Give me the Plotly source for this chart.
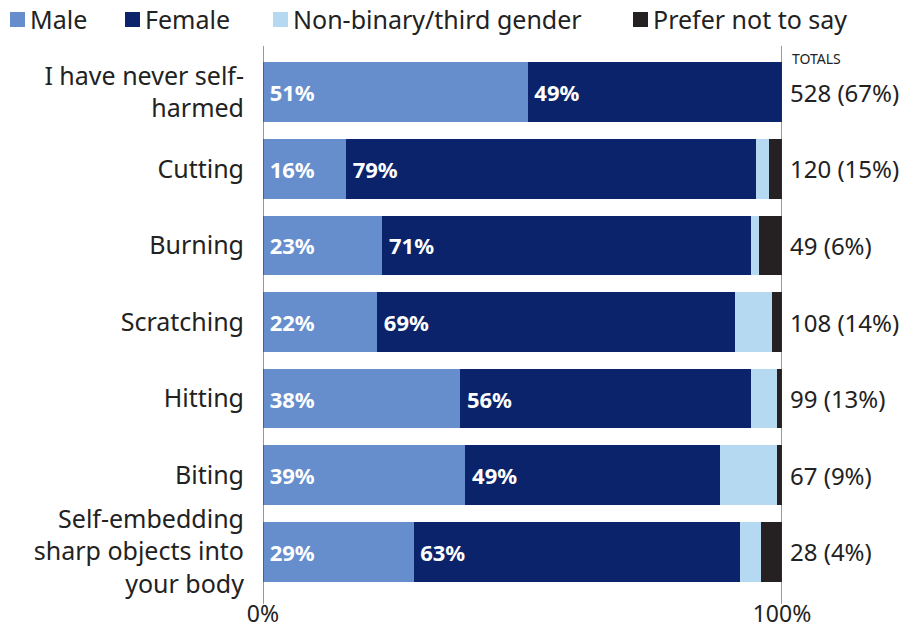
import plotly.graph_objects as go

categories = [
    "I have never self-<br>harmed",
    "Cutting",
    "Burning",
    "Scratching",
    "Hitting",
    "Biting",
    "Self-embedding<br>sharp objects into<br>your body",
]
male = [51, 16, 23, 22, 38, 39, 29]
female = [49, 79, 71, 69, 56, 49, 63]
non_binary = [0, 2.5, 1.5, 7, 5, 11, 4]
prefer_not = [0, 2.5, 4.5, 2, 1, 1, 4]
totals = ["528 (67%)", "120 (15%)", "49 (6%)", "108 (14%)", "99 (13%)", "67 (9%)", "28 (4%)"]

series = [
    ("Male", male, "#668ecd", True),
    ("Female", female, "#0b236a", True),
    ("Non-binary/third gender", non_binary, "#b4d9f0", False),
    ("Prefer not to say", prefer_not, "#252122", False),
]

FONT = "Noto Sans"
TXT = "#222"
W, H = 902, 629
ML, MR, MT, MB = 263, 120, 54, 39
PW, PH = W - ML - MR, H - MT - MB


def px_to_paper(px, py):
    return (px - ML) / PW, (H - MB - py) / PH


fig = go.Figure()
for name, vals, color, labelled in series:
    fig.add_trace(go.Bar(
        y=categories, x=vals, name=name, orientation="h",
        marker=dict(color=color, line=dict(width=0)),
        text=[f"\u2009{v:.0f}%" for v in vals] if labelled else None,
        textposition="inside" if labelled else "none",
        insidetextanchor="start",
        textfont=dict(family=FONT, size=22, color="white", weight="bold"),
        width=0.78,
        hoverinfo="x+name",
        showlegend=False,
    ))

# legend row across the top (square swatch + label)
legend_left = [10, 125, 273, 633]
for (name, _, color, _), lx in zip(series, legend_left):
    x0, y0 = px_to_paper(lx, 27)
    x1, y1 = px_to_paper(lx + 15, 12)
    fig.add_shape(type="rect", xref="paper", yref="paper", x0=x0, x1=x1, y0=y0, y1=y1,
                  fillcolor=color, line=dict(width=0))
    tx, ty = px_to_paper(lx + 18, 19)
    fig.add_annotation(x=tx, y=ty, xref="paper", yref="paper", text=name,
                       xanchor="left", yanchor="middle", showarrow=False,
                       font=dict(family=FONT, size=25, color=TXT))

# totals column to the right of the bars
for cat, t in zip(categories, totals):
    fig.add_annotation(x=1, xref="paper", y=cat, yref="y", text=t,
                       xanchor="left", xshift=6, showarrow=False,
                       font=dict(family=FONT, size=24, color=TXT))
fig.add_annotation(x=1, xref="paper", y=1.0, yref="paper", text="TOTALS",
                   xanchor="left", yanchor="middle", xshift=8, yshift=-4,
                   showarrow=False, font=dict(family=FONT, size=14, color=TXT))

# boundary lines at 0% and 100%
for xv in (0, 100):
    fig.add_shape(type="line", xref="x", yref="paper", x0=xv, x1=xv,
                  y0=-0.026, y1=1.015, line=dict(color="#333", width=1))

fig.update_layout(
    barmode="stack",
    width=W, height=H,
    margin=dict(l=ML, r=MR, t=MT, b=MB, autoexpand=False),
    paper_bgcolor="white", plot_bgcolor="white",
    font=dict(family=FONT, color=TXT),
    showlegend=False,
    xaxis=dict(range=[0, 100], tickvals=[0, 100], ticktext=["0%", "100%"],
               showgrid=False, zeroline=False, showline=False,
               ticks="outside", ticklen=3, tickcolor="rgba(0,0,0,0)",
               tickfont=dict(family=FONT, size=23, color=TXT), fixedrange=True),
    yaxis=dict(autorange="reversed", showgrid=False, showline=False,
               tickfont=dict(family=FONT, size=25, color=TXT), ticks="",
               ticklabelstandoff=18),
)

fig.write_html("out.html")
